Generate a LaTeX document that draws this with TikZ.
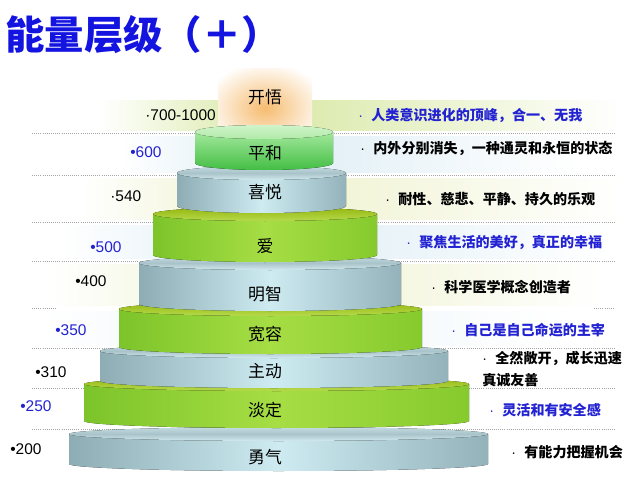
\documentclass[tikz,border=0pt]{standalone}
\usepackage{fontspec}
\setmainfont{Liberation Sans}
\newfontfamily\cjk{Noto Sans CJK SC}
\usepackage{tikz}
\usetikzlibrary{positioning}
\definecolor{titleblue}{HTML}{1414E0}
\definecolor{textblue}{HTML}{2222D2}
\definecolor{glow}{HTML}{F6BC70}
\definecolor{bandgreen}{HTML}{D8E8A4}
\definecolor{bandblue}{HTML}{DDEDF5}
\definecolor{bandyellow}{HTML}{EEF2CC}
\definecolor{bandpale}{HTML}{EDF5F9}
\definecolor{HTMLgl}{HTML}{7CC42A}
\definecolor{HTMLgm}{HTML}{A6DE44}
\definecolor{HTMLgr}{HTML}{86CA2E}
\definecolor{HTMLgt}{HTML}{94B60E}
\definecolor{HTMLgb}{HTML}{B6DA4C}
\definecolor{HTMLbl}{HTML}{8EACB4}
\definecolor{HTMLbm}{HTML}{CDEBF1}
\definecolor{HTMLbr}{HTML}{94B2BA}
\definecolor{HTMLbt}{HTML}{C4DCE2}
\definecolor{HTMLbc}{HTML}{A9C3CA}
\definecolor{HTMLbb}{HTML}{D2EAEF}
\definecolor{HTMLpt}{HTML}{A2E89C}
\definecolor{HTMLpb}{HTML}{44BE44}
\definecolor{HTMLpc}{HTML}{D0F4CA}
\definecolor{HTMLpd}{HTML}{B0EAA8}
\tikzset{
  heading/.style={anchor=west,inner sep=0pt,text=titleblue,font=\cjk\bfseries\fontsize{28}{30}\selectfont},
  tierlabel/.style={inner sep=0pt,font=\cjk\fontsize{12}{14}\selectfont},
  scorelabel/.style={anchor=west,inner sep=0pt,font=\fontsize{11}{13}\selectfont},
  desctext/.style={anchor=west,inner sep=0pt,align=left,font=\cjk\bfseries\fontsize{10}{15.5}\selectfont},
  sepline/.style={densely dotted,gray!70,line width=0.5pt},
  gside/.style={left color=HTMLgl,right color=HTMLgr,middle color=HTMLgm},
  gcap/.style={top color=HTMLgt,bottom color=HTMLgb},
  bside/.style={left color=HTMLbl,right color=HTMLbr,middle color=HTMLbm},
  bcap/.style={top color=HTMLbt,bottom color=HTMLbb,middle color=HTMLbc},
  pside/.style={top color=HTMLpt,bottom color=HTMLpb},
  pcap/.style={top color=HTMLpc,bottom color=HTMLpd}
}

\begin{document}
\begin{tikzpicture}[x=0.025cm,y=0.025cm]
\useasboundingbox (0,0) rectangle (640,-480);
\fill[white] (0,0) rectangle (640,-480);
\foreach \yt/\yb/\xl/\xr/\tint in {100/130/100/620/bandgreen,136/172/120/580/bandblue,178/219/80/620/bandyellow,225/258/60/610/bandblue,264/305/50/600/bandyellow,311/345/40/560/bandpale}{
  \shade[left color=white,right color=\tint] (\xl,-\yt) rectangle (265,-\yb);
  \shade[left color=\tint,right color=white] (265,-\yt) rectangle (\xr,-\yb);
}
\foreach \y in {133,175,222,261,348,388,429}
  \draw[sepline] (32,-\y) -- (615,-\y);
\draw[sepline] (32,-308) -- (56,-308);
\draw[sepline] (594,-308) -- (615,-308);
\begin{scope}
  \clip (218,-68) rectangle (312,-125);
  \shade[inner color=glow,outer color=white] (265,-108) ellipse[x radius=62,y radius=46];
\end{scope}
\foreach \xl/\xr/\yt/\yb/\side/\cap in {69/488/427/471/bside/bcap,84/469/377/428/gside/gcap,100/448/344/388/bside/bcap,119/422/302/354/gside/gcap,139/401/256/311/bside/bcap,153/377/207/262/gside/gcap,177/346/166/213/bside/bcap,195/333/125/170/pside/pcap}{
  \pgfmathsetmacro\rx{(\xr-\xl)/2}
  \pgfmathsetmacro\cx{(\xl+\xr)/2}
  \fill[\side] (\xl,-\yt-7) -- (\xl,-\yb+7) arc[start angle=180,end angle=360,x radius=\rx,y radius=7] -- (\xr,-\yt-7) -- cycle;
  \fill[\cap] (\cx,-\yt-7) ellipse[x radius=\rx,y radius=7];
}
\node[heading] (title) at (5,-35) {能量层级（＋）};
\foreach \y/\name [count=\i] in {97/开悟,153/平和,192/喜悦,246/爱,294/明智,334/宽容,371/主动,410/淡定,457/勇气}
  \node[tierlabel] (tier\i) at (265,-\y) {\name};
\foreach \x/\y/\c/\s [count=\i] in {145/115/black/·700-1000,130/152/textblue/•600,110/196/black/·540,90/247/textblue/•500,75/281/black/•400,55/330/textblue/•350,35/372/black/•310,20/406/textblue/•250,10/449/black/•200}
  \node[scorelabel,text=\c] (score\i) at (\x,-\y) {\s};
\foreach \x/\y/\c/\s [count=\i] in {358/115/textblue/{人类意识进化的顶峰，合一、无我},360/148/black/{内外分别消失，一种通灵和永恒的状态},385/199/black/{耐性、慈悲、平静、持久的乐观},406/243/textblue/{聚焦生活的美好，真正的幸福},431/287/black/{科学医学概念创造者},451/330/textblue/{自己是自己命运的主宰},482/369/black/{全然敞开，成长迅速\\真诚友善},489/410/textblue/{灵活和有安全感},511/452/black/{有能力把握机会}}
  \node[desctext,text=\c] (desc\i) at (\x,-\y) {{\rmfamily\mdseries·}\hspace{6pt}\s};
\end{tikzpicture}
\end{document}
